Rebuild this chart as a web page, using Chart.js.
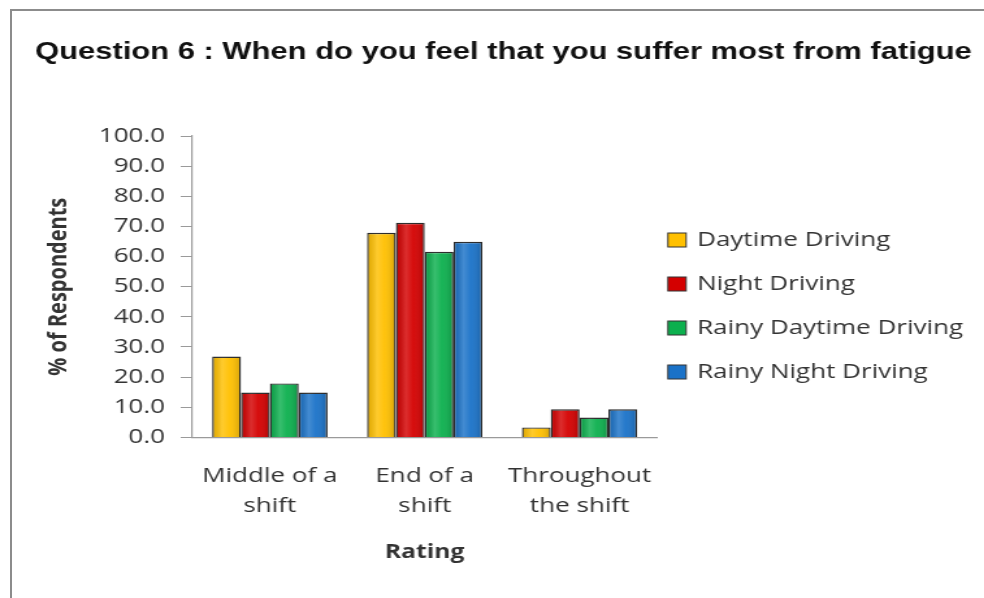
<!DOCTYPE html>
<html>
<head>
<meta charset="utf-8">
<script src="https://cdn.jsdelivr.net/npm/chart.js@4.4.1/dist/chart.umd.min.js"></script>
<style>
  html, body { margin: 0; padding: 0; background: #fff; overflow: hidden; }
  body { width: 984px; height: 598px; position: relative; }
  /* the source picture is stretched sideways, so the chart is drawn narrow and widened */
  #wrap { position: absolute; left: 0; top: 0; width: 757px; height: 598px;
          transform: scaleX(1.3); transform-origin: 0 0; }
  #frame { position: absolute; left: 10px; top: 9px; width: 1000px; height: 620px;
           border: 2px solid #8c8c8c; pointer-events: none; }
</style>
</head>
<body>
<div id="wrap"><canvas id="fatigueChart"></canvas></div>
<div id="frame"></div>
<script>
// Data
const categories = [['Middle of a', 'shift'], ['End of a', 'shift'], ['Throughout', 'the shift']];
const seriesNames = ['Daytime Driving', 'Night Driving', 'Rainy Daytime Driving', 'Rainy Night Driving'];
const daytimeDriving = [26.8, 67.9, 3.3];
const nightDriving = [14.9, 71.2, 9.3];
const rainyDaytimeDriving = [17.9, 61.6, 6.6];
const rainyNightDriving = [14.9, 64.9, 9.3];
const yTicks = [0, 10, 20, 30, 40, 50, 60, 70, 80, 90, 100];

const seriesColors = ['#ffc000', '#d40000', '#0cb04e', '#1a72c8'];

// Title drawn by hand so it is not squeezed into the plot width
const topTitle = {
    id: 'topTitle',
    afterDraw(chart, args, opts) {
        const ctx = chart.ctx;
        ctx.save();
        ctx.font = opts.font;
        ctx.fillStyle = opts.color;
        ctx.textBaseline = 'alphabetic';
        ctx.fillText(opts.text, opts.x, opts.y);
        ctx.restore();
    }
};

// Legend at the right of the plot, like the office chart
const sideLegend = {
    id: 'sideLegend',
    afterDraw(chart, args, opts) {
        const { ctx, chartArea } = chart;
        ctx.save();
        ctx.font = opts.font;
        ctx.textBaseline = 'middle';
        chart.data.datasets.forEach((ds, i) => {
            const x = chartArea.right + opts.offset;
            const y = chartArea.top + opts.top + i * opts.spacing;
            ctx.fillStyle = ds.backgroundColor;
            ctx.fillRect(x, y - opts.boxH / 2, opts.boxW, opts.boxH);
            ctx.strokeStyle = '#333';
            ctx.lineWidth = 1;
            ctx.strokeRect(x, y - opts.boxH / 2, opts.boxW, opts.boxH);
            ctx.fillStyle = opts.color;
            ctx.fillText(ds.label, x + opts.textGap, y);
        });
        ctx.restore();
    }
};

// Soft shading across every bar (3D look of the original)
const barShine = {
    id: 'barShine',
    afterDatasetsDraw(chart) {
        const ctx = chart.ctx;
        chart.data.datasets.forEach((ds, i) => {
            chart.getDatasetMeta(i).data.forEach(bar => {
                const { x, y, base, width } = bar.getProps(['x', 'y', 'base', 'width'], true);
                const left = x - width / 2;
                const g = ctx.createLinearGradient(left, 0, left + width, 0);
                g.addColorStop(0, 'rgba(0,0,0,0.12)');
                g.addColorStop(0.35, 'rgba(255,255,255,0.18)');
                g.addColorStop(0.6, 'rgba(255,255,255,0.05)');
                g.addColorStop(1, 'rgba(0,0,0,0.18)');
                ctx.save();
                ctx.fillStyle = g;
                ctx.fillRect(left + 1, y + 1, width - 2, base - y - 1);
                ctx.restore();
            });
        });
    }
};

const ctx = document.getElementById('fatigueChart').getContext('2d');

const chart = new Chart(ctx, {
    type: 'bar',
    data: {
        labels: categories,
        datasets: [daytimeDriving, nightDriving, rainyDaytimeDriving, rainyNightDriving].map((vals, i) => ({
            label: seriesNames[i],
            data: vals,
            backgroundColor: seriesColors[i],
            borderColor: '#2a2a2a',
            borderWidth: 1.4,
            categoryPercentage: 0.745,
            barPercentage: 1.0
        }))
    },
    options: {
        responsive: true,
        maintainAspectRatio: false,
        animation: false,
        layout: {
            padding: { left: 27, right: 251.6, top: 136, bottom: 34.2 }
        },
        plugins: {
            legend: { display: false },
            tooltip: { enabled: false },
            topTitle: {
                text: 'Question 6 : When do you feel that you suffer most from fatigue',
                font: 'bold 23.8px "Liberation Sans"',
                color: '#111',
                x: 27,
                y: 59
            },
            sideLegend: {
                font: '20px "Open Sans"',
                color: '#333',
                offset: 8.4,
                top: 104,
                spacing: 44,
                boxW: 14,
                boxH: 14,
                textGap: 22.4
            }
        },
        scales: {
            x: {
                grid: { display: false, drawTicks: true, tickLength: 18 },
                border: { display: true, color: '#9a9a9a', width: 1.2 },
                ticks: {
                    color: '#333',
                    padding: 6,
                    maxRotation: 0,
                    font: { family: 'Open Sans', size: 20, lineHeight: 1.5 }
                },
                title: {
                    display: true,
                    text: 'Rating',
                    color: '#333',
                    font: { family: 'Open Sans', size: 19, weight: 'bold', lineHeight: 1.2 },
                    padding: { top: 13.6, bottom: 0 }
                }
            },
            y: {
                min: 0,
                max: 100,
                afterBuildTicks: (scale) => { scale.ticks = yTicks.map(v => ({ value: v })); },
                grid: {
                    display: true,
                    drawOnChartArea: false,
                    drawTicks: true,
                    tickLength: 9,
                    color: '#9a9a9a'
                },
                border: { display: true, color: '#9a9a9a', width: 1.2 },
                ticks: {
                    color: '#333',
                    padding: 12,
                    font: { family: 'Open Sans', size: 20 },
                    callback: (v) => Number(v).toFixed(1)
                },
                title: {
                    display: true,
                    text: '% of Respondents',
                    color: '#333',
                    font: { family: 'Open Sans', size: 20, weight: 'bold', lineHeight: 1.2 },
                    padding: { top: 6.4, bottom: 6.6 }
                }
            }
        }
    },
    plugins: [topTitle, sideLegend, barShine]
});
</script>
</body>
</html>
